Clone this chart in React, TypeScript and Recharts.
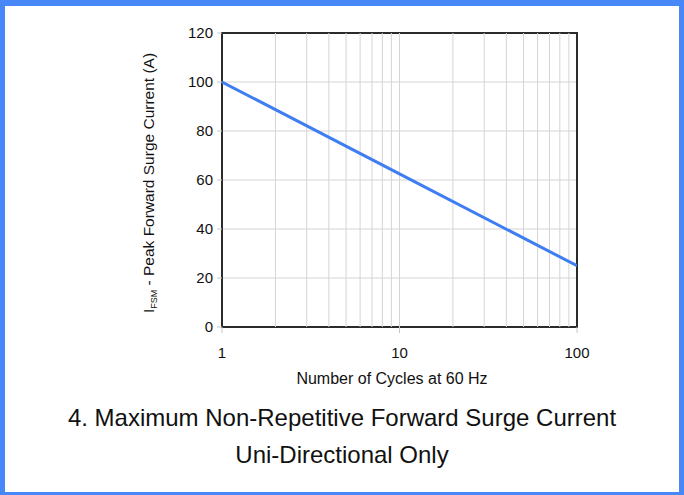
import { LineChart, Line, XAxis, YAxis, CartesianGrid, ReferenceLine, ReferenceArea } from 'recharts';

const cycles = [1, 10, 100];
const surgeCurrent = [100, 62.5, 25];
const xTicks = [1, 10, 100];
const yTicks = [0, 20, 40, 60, 80, 100, 120];
const minorCycles = [2, 3, 4, 5, 6, 7, 8, 9, 10, 20, 30, 40, 50, 60, 70, 80, 90];

const data = cycles.map((c, i) => ({ cycles: c, current: surgeCurrent[i] }));

const font = '"Liberation Sans", Arial, sans-serif';

export default function App() {
  return (
    <div
      style={{
        position: 'absolute',
        left: 0,
        top: 0,
        width: 684,
        height: 495,
        boxSizing: 'border-box',
        borderStyle: 'solid',
        borderColor: '#4787f7',
        borderWidth: '6px 5px 3px 5px',
        background: '#fff',
        fontFamily: font,
      }}
    >
      <div style={{ position: 'absolute', left: -5, top: -6 }}>
        <LineChart
          width={684}
          height={400}
          data={data}
          margin={{ top: 33, right: 107, left: 162, bottom: 43 }}
        >
          <CartesianGrid vertical={false} stroke="#d4d4d4" strokeWidth={1} />
          {minorCycles.map((v) => (
            <ReferenceLine key={v} x={v} stroke="#d4d4d4" strokeWidth={1} />
          ))}
          <XAxis
            dataKey="cycles"
            type="number"
            scale="log"
            domain={[1, 100]}
            ticks={xTicks}
            allowDataOverflow
            axisLine={false}
            tickLine={{ stroke: '#c8c8c8' }}
            tickSize={6}
            tickMargin={14}
            height={30}
            tick={{ fill: '#111', fontSize: 15, fontFamily: font }}
          />
          <YAxis
            type="number"
            domain={[0, 120]}
            ticks={yTicks}
            axisLine={false}
            tickLine={{ stroke: '#c8c8c8' }}
            tickSize={5}
            tickMargin={4}
            width={60}
            tick={{ fill: '#111', fontSize: 15, fontFamily: font }}
          />
          <ReferenceArea x1={1} x2={100} y1={0} y2={120} fill="none" stroke="#2b2b2b" strokeWidth={2} ifOverflow="visible" />
          <Line
            dataKey="current"
            type="linear"
            stroke="#3f7ef2"
            strokeWidth={3}
            dot={false}
            isAnimationActive={false}
          />
        </LineChart>
        <svg width={684} height={400} style={{ position: 'absolute', left: 0, top: 0, pointerEvents: 'none' }}>
          <text
            transform="translate(154,183) rotate(-90)"
            textAnchor="middle"
            fontSize={15.5}
            fontFamily={font}
            fill="#111"
          >
            I
            <tspan fontSize={9} dy={3}>FSM</tspan>
            <tspan dy={-3}> - Peak Forward Surge Current (A)</tspan>
          </text>
          <text x={392} y={384} textAnchor="middle" fontSize={16} fontFamily={font} fill="#111">
            Number of Cycles at 60 Hz
          </text>
        </svg>
      </div>
      <div
        style={{
          position: 'absolute',
          left: -5,
          top: 393,
          width: 684,
          textAlign: 'center',
          fontSize: 24,
          lineHeight: '37px',
          color: '#111',
        }}
      >
        <div>4. Maximum Non-Repetitive Forward Surge Current</div>
        <div>Uni-Directional Only</div>
      </div>
    </div>
  );
}
